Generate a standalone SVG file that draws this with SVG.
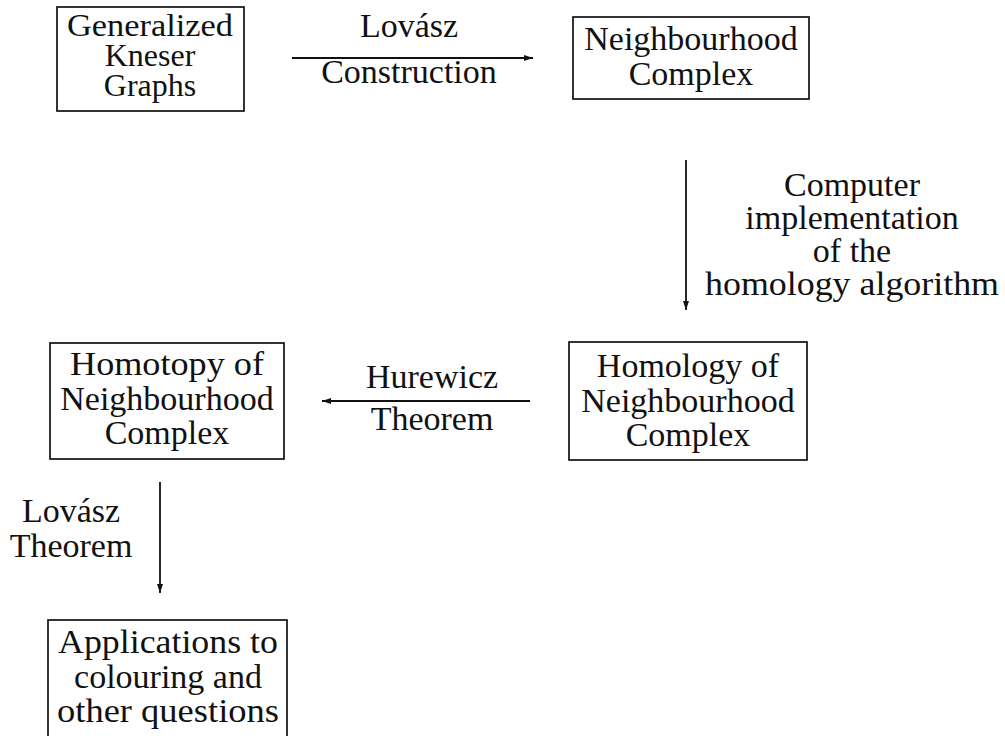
<svg xmlns="http://www.w3.org/2000/svg" width="1005" height="736" viewBox="0 0 1005 736">
<style>
text{font-family:"Liberation Serif","Times New Roman",serif;font-size:34px;fill:#111;text-anchor:middle}
.tight{font-size:32px}
.box{fill:none;stroke:#111;stroke-width:1.7}
.edge{fill:none;stroke:#111;stroke-width:1.8}
</style>
<defs>
<marker id="ah" markerWidth="10" markerHeight="8" refX="9" refY="4" orient="auto" markerUnits="userSpaceOnUse">
<path d="M0,1 L9,4 L0,7 Z" fill="#111"/>
</marker>
</defs>
<rect width="1005" height="736" fill="#fff"/>
<g id="n-kneser">
<rect class="box" x="57" y="7" width="187" height="104"/>
<text class="tight" x="150" y="36" textLength="166" lengthAdjust="spacingAndGlyphs">Generalized</text>
<text class="tight" x="150" y="66">Kneser</text>
<text class="tight" x="150" y="96">Graphs</text>
</g>
<g id="n-nbhd">
<rect class="box" x="573" y="17" width="236" height="82"/>
<text x="691" y="50">Neighbourhood</text>
<text x="691" y="85">Complex</text>
</g>
<g id="n-homology">
<rect class="box" x="569" y="342" width="238" height="118"/>
<text x="688" y="377">Homology of</text>
<text x="688" y="412">Neighbourhood</text>
<text x="688" y="446">Complex</text>
</g>
<g id="n-homotopy">
<rect class="box" x="50" y="343" width="234" height="116"/>
<text x="167" y="375" textLength="194" lengthAdjust="spacingAndGlyphs">Homotopy of</text>
<text x="167" y="410">Neighbourhood</text>
<text x="167" y="444">Complex</text>
</g>
<g id="n-apps">
<rect class="box" x="48" y="620" width="239" height="130"/>
<text x="168" y="653" textLength="220" lengthAdjust="spacingAndGlyphs">Applications to</text>
<text x="168" y="688">colouring and</text>
<text x="168" y="722" textLength="222" lengthAdjust="spacingAndGlyphs">other questions</text>
</g>
<g id="connectors">
<line class="edge" x1="292" y1="58" x2="533" y2="58" marker-end="url(#ah)"/>
<text x="409" y="37">Lovász</text>
<text x="409" y="83">Construction</text>
<line class="edge" x1="686" y1="160" x2="686" y2="310" marker-end="url(#ah)"/>
<text x="852" y="196">Computer</text>
<text x="852" y="229">implementation</text>
<text x="852" y="262">of the</text>
<text x="852" y="295" textLength="294" lengthAdjust="spacingAndGlyphs">homology algorithm</text>
<line class="edge" x1="530" y1="401" x2="322" y2="401" marker-end="url(#ah)"/>
<text x="432" y="388">Hurewicz</text>
<text x="432" y="430">Theorem</text>
<line class="edge" x1="160" y1="482" x2="160" y2="593" marker-end="url(#ah)"/>
<text x="71" y="522">Lovász</text>
<text x="71" y="557">Theorem</text>
</g>
</svg>
